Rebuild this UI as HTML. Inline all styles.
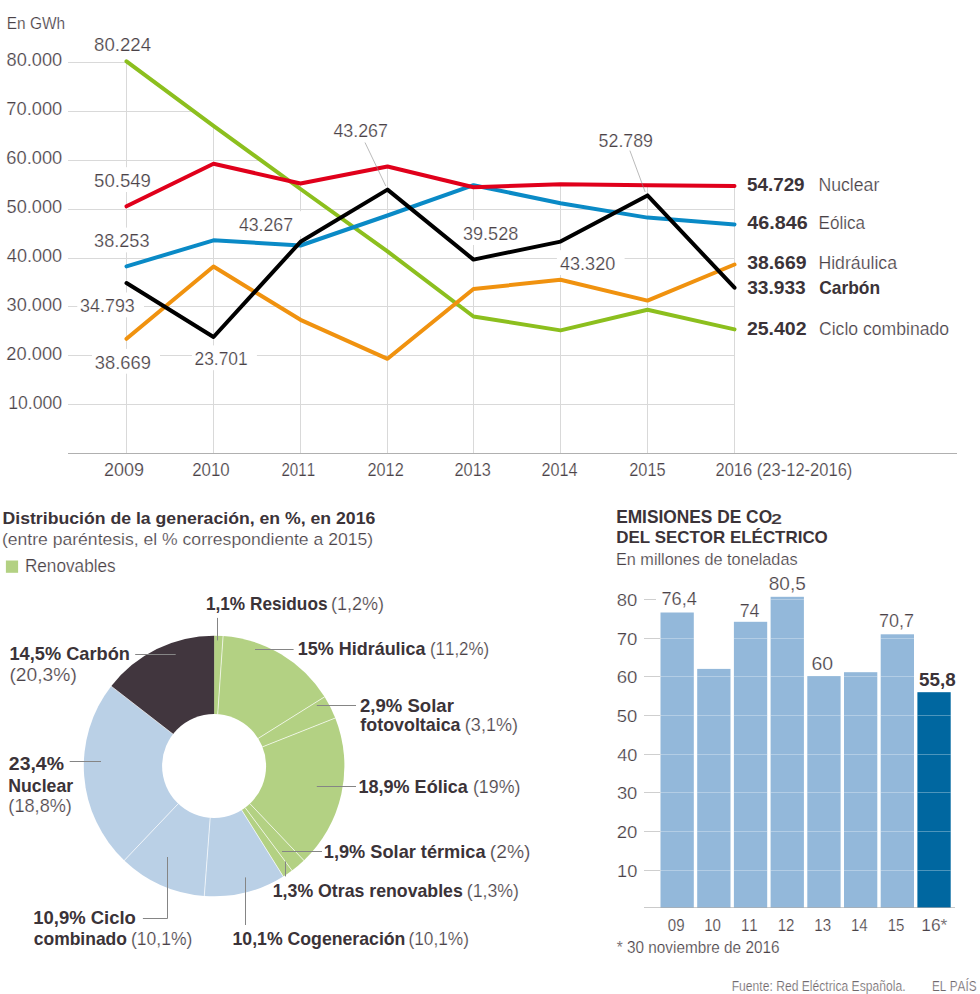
<!DOCTYPE html>
<html><head><meta charset="utf-8"><style>
html,body{margin:0;padding:0;background:#fff;}
body{width:980px;height:994px;overflow:hidden;}
svg{display:block;font-family:"Liberation Sans",sans-serif;font-kerning:none;}
</style></head><body>
<svg width="980" height="994" viewBox="0 0 980 994">
<defs><clipPath id="gc"><polygon points="60,61.30 126.50,61.30 213.50,125.80 300.50,189.00 387.50,251.40 473.50,316.50 560.50,330.40 647.50,309.80 734.50,329.40 736,329.40 736,460 60,460"/><polygon points="60,338.80 126.50,338.80 213.50,266.50 300.50,319.80 387.50,358.80 473.50,289.00 560.50,279.80 647.50,300.60 734.50,264.50 736,264.50 736,460 60,460"/><polygon points="60,266.40 126.50,266.40 213.50,240.30 300.50,245.50 387.50,215.50 473.50,185.20 560.50,203.20 647.50,217.60 734.50,224.40 736,224.40 736,460 60,460"/><polygon points="60,206.30 126.50,206.30 213.50,163.80 300.50,183.50 387.50,166.50 473.50,187.30 560.50,184.30 647.50,185.30 734.50,185.90 736,185.90 736,460 60,460"/><polygon points="60,283.00 126.50,283.00 213.50,337.00 300.50,241.80 387.50,189.60 473.50,259.60 560.50,241.60 647.50,195.40 734.50,287.70 736,287.70 736,460 60,460"/></clipPath></defs>
<g clip-path="url(#gc)" stroke="#d9d9d9" stroke-width="1"><line x1="68" y1="404.5" x2="735" y2="404.5"/><line x1="68" y1="355.5" x2="735" y2="355.5"/><line x1="68" y1="306.5" x2="735" y2="306.5"/><line x1="68" y1="258.5" x2="735" y2="258.5"/><line x1="68" y1="209.5" x2="735" y2="209.5"/><line x1="68" y1="160.5" x2="735" y2="160.5"/><line x1="68" y1="111.5" x2="735" y2="111.5"/><line x1="68" y1="62.5" x2="735" y2="62.5"/><line x1="126.5" y1="40" x2="126.5" y2="454"/><line x1="213.5" y1="40" x2="213.5" y2="454"/><line x1="300.5" y1="40" x2="300.5" y2="454"/><line x1="387.5" y1="40" x2="387.5" y2="454"/><line x1="473.5" y1="40" x2="473.5" y2="454"/><line x1="560.5" y1="40" x2="560.5" y2="454"/><line x1="647.5" y1="40" x2="647.5" y2="454"/><line x1="734.5" y1="40" x2="734.5" y2="454"/></g>
<line x1="68.00" y1="453.50" x2="957.00" y2="453.50" stroke="#b0b0b0" stroke-width="1"/>
<rect x="91.40" y="31.20" width="69.10" height="24.80" fill="#fff"/>
<rect x="91.30" y="167.20" width="68.80" height="24.80" fill="#fff"/>
<rect x="91.30" y="227.60" width="67.40" height="24.80" fill="#fff"/>
<rect x="235.80" y="211.20" width="66.40" height="24.80" fill="#fff"/>
<rect x="77.30" y="292.50" width="66.70" height="24.80" fill="#fff"/>
<rect x="92.00" y="348.90" width="68.00" height="24.80" fill="#fff"/>
<rect x="191.90" y="345.40" width="65.00" height="24.80" fill="#fff"/>
<rect x="330.30" y="117.20" width="66.80" height="24.80" fill="#fff"/>
<rect x="460.20" y="220.20" width="67.30" height="24.80" fill="#fff"/>
<rect x="556.90" y="250.20" width="67.70" height="24.80" fill="#fff"/>
<rect x="595.80" y="127.20" width="66.40" height="24.80" fill="#fff"/>
<polyline points="126.50,61.30 213.50,125.80 300.50,189.00 387.50,251.40 473.50,316.50 560.50,330.40 647.50,309.80 734.50,329.40" fill="none" stroke="#8cbf1e" stroke-width="4" stroke-linejoin="round" stroke-linecap="round"/>
<polyline points="126.50,338.80 213.50,266.50 300.50,319.80 387.50,358.80 473.50,289.00 560.50,279.80 647.50,300.60 734.50,264.50" fill="none" stroke="#f0920f" stroke-width="4" stroke-linejoin="round" stroke-linecap="round"/>
<polyline points="126.50,266.40 213.50,240.30 300.50,245.50 387.50,215.50 473.50,185.20 560.50,203.20 647.50,217.60 734.50,224.40" fill="none" stroke="#0a8ac6" stroke-width="4" stroke-linejoin="round" stroke-linecap="round"/>
<polyline points="126.50,206.30 213.50,163.80 300.50,183.50 387.50,166.50 473.50,187.30 560.50,184.30 647.50,185.30 734.50,185.90" fill="none" stroke="#e0001b" stroke-width="4" stroke-linejoin="round" stroke-linecap="round"/>
<polyline points="126.50,283.00 213.50,337.00 300.50,241.80 387.50,189.60 473.50,259.60 560.50,241.60 647.50,195.40 734.50,287.70" fill="none" stroke="#000000" stroke-width="4" stroke-linejoin="round" stroke-linecap="round"/>
<text x="94.09" y="51.00" font-size="17.91" textLength="56.95" lengthAdjust="spacingAndGlyphs" stroke="#fff" stroke-width="0.22" fill="#4a4247">80.224</text>
<text x="94.05" y="187.00" font-size="17.91" textLength="56.93" lengthAdjust="spacingAndGlyphs" stroke="#fff" stroke-width="0.22" fill="#4a4247">50.549</text>
<text x="94.11" y="247.40" font-size="17.91" textLength="55.39" lengthAdjust="spacingAndGlyphs" stroke="#fff" stroke-width="0.22" fill="#4a4247">38.253</text>
<text x="238.89" y="231.00" font-size="17.91" textLength="54.20" lengthAdjust="spacingAndGlyphs" stroke="#fff" stroke-width="0.22" fill="#4a4247">43.267</text>
<text x="80.12" y="312.30" font-size="17.91" textLength="54.67" lengthAdjust="spacingAndGlyphs" stroke="#fff" stroke-width="0.22" fill="#4a4247">34.793</text>
<text x="94.80" y="368.70" font-size="17.91" textLength="56.07" lengthAdjust="spacingAndGlyphs" stroke="#fff" stroke-width="0.22" fill="#4a4247">38.669</text>
<text x="194.52" y="365.20" font-size="17.91" textLength="53.22" lengthAdjust="spacingAndGlyphs" stroke="#fff" stroke-width="0.22" fill="#4a4247">23.701</text>
<text x="333.39" y="137.00" font-size="17.91" textLength="54.61" lengthAdjust="spacingAndGlyphs" stroke="#fff" stroke-width="0.22" fill="#4a4247">43.267</text>
<text x="463.01" y="240.00" font-size="17.91" textLength="55.27" lengthAdjust="spacingAndGlyphs" stroke="#fff" stroke-width="0.22" fill="#4a4247">39.528</text>
<text x="559.98" y="270.00" font-size="17.91" textLength="55.32" lengthAdjust="spacingAndGlyphs" stroke="#fff" stroke-width="0.22" fill="#4a4247">43.320</text>
<text x="598.59" y="147.00" font-size="17.91" textLength="54.46" lengthAdjust="spacingAndGlyphs" stroke="#fff" stroke-width="0.22" fill="#4a4247">52.789</text>
<line x1="365.00" y1="142.50" x2="385.80" y2="186.00" stroke="#8c8c8c" stroke-width="0.6"/>
<line x1="629.90" y1="150.60" x2="645.20" y2="192.00" stroke="#8c8c8c" stroke-width="0.6"/>
<text x="6.73" y="28.90" font-size="17.16" textLength="58.37" lengthAdjust="spacingAndGlyphs" stroke="#fff" stroke-width="0.22" fill="#4a4247">En GWh</text>
<text x="8.15" y="408.50" font-size="17.91" textLength="54.04" lengthAdjust="spacingAndGlyphs" stroke="#fff" stroke-width="0.22" fill="#4a4247">10.000</text>
<text x="6.38" y="359.60" font-size="17.91" textLength="55.83" lengthAdjust="spacingAndGlyphs" stroke="#fff" stroke-width="0.22" fill="#4a4247">20.000</text>
<text x="6.61" y="310.70" font-size="17.91" textLength="55.60" lengthAdjust="spacingAndGlyphs" stroke="#fff" stroke-width="0.22" fill="#4a4247">30.000</text>
<text x="6.88" y="261.80" font-size="17.91" textLength="55.32" lengthAdjust="spacingAndGlyphs" stroke="#fff" stroke-width="0.22" fill="#4a4247">40.000</text>
<text x="6.57" y="212.90" font-size="17.91" textLength="55.64" lengthAdjust="spacingAndGlyphs" stroke="#fff" stroke-width="0.22" fill="#4a4247">50.000</text>
<text x="6.37" y="164.00" font-size="17.91" textLength="55.84" lengthAdjust="spacingAndGlyphs" stroke="#fff" stroke-width="0.22" fill="#4a4247">60.000</text>
<text x="6.36" y="115.10" font-size="17.91" textLength="55.85" lengthAdjust="spacingAndGlyphs" stroke="#fff" stroke-width="0.22" fill="#4a4247">70.000</text>
<text x="6.51" y="66.20" font-size="17.91" textLength="55.70" lengthAdjust="spacingAndGlyphs" stroke="#fff" stroke-width="0.22" fill="#4a4247">80.000</text>
<text x="103.89" y="476.30" font-size="18.21" textLength="40.06" lengthAdjust="spacingAndGlyphs" stroke="#fff" stroke-width="0.22" fill="#4a4247">2009</text>
<text x="192.15" y="476.30" font-size="18.21" textLength="37.51" lengthAdjust="spacingAndGlyphs" stroke="#fff" stroke-width="0.22" fill="#4a4247">2010</text>
<text x="281.44" y="476.30" font-size="18.21" textLength="33.70" lengthAdjust="spacingAndGlyphs" stroke="#fff" stroke-width="0.22" fill="#4a4247">2011</text>
<text x="367.48" y="476.30" font-size="18.21" textLength="36.24" lengthAdjust="spacingAndGlyphs" stroke="#fff" stroke-width="0.22" fill="#4a4247">2012</text>
<text x="454.48" y="476.30" font-size="18.21" textLength="36.44" lengthAdjust="spacingAndGlyphs" stroke="#fff" stroke-width="0.22" fill="#4a4247">2013</text>
<text x="541.38" y="476.30" font-size="18.21" textLength="36.09" lengthAdjust="spacingAndGlyphs" stroke="#fff" stroke-width="0.22" fill="#4a4247">2014</text>
<text x="629.28" y="476.30" font-size="18.21" textLength="36.41" lengthAdjust="spacingAndGlyphs" stroke="#fff" stroke-width="0.22" fill="#4a4247">2015</text>
<text x="715.47" y="476.30" font-size="18.21" textLength="136.86" lengthAdjust="spacingAndGlyphs" stroke="#fff" stroke-width="0.22" fill="#4a4247">2016 (23-12-2016)</text>
<text x="747.02" y="191.10" font-size="17.61" textLength="57.58" lengthAdjust="spacingAndGlyphs" font-weight="bold" fill="#3b3338">54.729</text>
<text x="818.45" y="191.10" font-size="17.61" textLength="60.84" lengthAdjust="spacingAndGlyphs" stroke="#fff" stroke-width="0.22" fill="#4a4247">Nuclear</text>
<text x="747.30" y="228.70" font-size="17.61" textLength="60.41" lengthAdjust="spacingAndGlyphs" font-weight="bold" fill="#3b3338">46.846</text>
<text x="818.50" y="228.70" font-size="17.61" textLength="46.50" lengthAdjust="spacingAndGlyphs" stroke="#fff" stroke-width="0.22" fill="#4a4247">Eólica</text>
<text x="747.15" y="268.60" font-size="17.61" textLength="59.37" lengthAdjust="spacingAndGlyphs" font-weight="bold" fill="#3b3338">38.669</text>
<text x="818.45" y="268.60" font-size="17.61" textLength="78.55" lengthAdjust="spacingAndGlyphs" stroke="#fff" stroke-width="0.22" fill="#4a4247">Hidráulica</text>
<text x="747.16" y="293.90" font-size="17.61" textLength="58.63" lengthAdjust="spacingAndGlyphs" font-weight="bold" fill="#3b3338">33.933</text>
<text x="819.19" y="293.90" font-size="17.61" textLength="60.89" lengthAdjust="spacingAndGlyphs" font-weight="bold" fill="#3b3338">Carbón</text>
<text x="746.92" y="334.70" font-size="17.61" textLength="59.66" lengthAdjust="spacingAndGlyphs" font-weight="bold" fill="#3b3338">25.402</text>
<text x="819.01" y="334.70" font-size="17.61" textLength="130.03" lengthAdjust="spacingAndGlyphs" stroke="#fff" stroke-width="0.22" fill="#4a4247">Ciclo combinado</text>
<text x="2.52" y="523.50" font-size="17.01" textLength="372.82" lengthAdjust="spacingAndGlyphs" font-weight="bold" fill="#3b3338">Distribución de la generación, en %, en 2016</text>
<text x="1.91" y="545.00" font-size="17.01" textLength="371.18" lengthAdjust="spacingAndGlyphs" stroke="#fff" stroke-width="0.22" fill="#4a4247">(entre paréntesis, el % correspondiente a 2015)</text>
<rect x="5.90" y="560.50" width="12.20" height="12.30" fill="#b3d183"/>
<text x="24.89" y="572.10" font-size="17.46" textLength="90.83" lengthAdjust="spacingAndGlyphs" stroke="#fff" stroke-width="0.22" fill="#4a4247">Renovables</text>
<path d="M214.100,766.000 L214.100,635.700 A130.300,130.300 0 0 1 223.099,636.011 Z" fill="#b3d183"/>
<path d="M214.100,766.000 L223.099,636.011 A130.300,130.300 0 0 1 324.552,696.874 Z" fill="#b3d183"/>
<path d="M214.100,766.000 L324.552,696.874 A130.300,130.300 0 0 1 335.250,718.033 Z" fill="#b3d183"/>
<path d="M214.100,766.000 L335.250,718.033 A130.300,130.300 0 0 1 303.892,860.422 Z" fill="#b3d183"/>
<path d="M214.100,766.000 L303.892,860.422 A130.300,130.300 0 0 1 292.007,870.444 Z" fill="#b3d183"/>
<path d="M214.100,766.000 L292.007,870.444 A130.300,130.300 0 0 1 283.226,876.452 Z" fill="#b3d183"/>
<path d="M214.100,766.000 L283.226,876.452 A130.300,130.300 0 0 1 204.285,895.930 Z" fill="#bad0e6"/>
<path d="M214.100,766.000 L204.285,895.930 A130.300,130.300 0 0 1 124.308,860.422 Z" fill="#bad0e6"/>
<path d="M214.100,766.000 L124.308,860.422 A130.300,130.300 0 0 1 111.143,686.138 Z" fill="#bad0e6"/>
<path d="M214.100,766.000 L111.143,686.138 A130.300,130.300 0 0 1 214.100,635.700 Z" fill="#41363e"/>
<line x1="217.69" y1="714.12" x2="223.17" y2="635.01" stroke="rgba(255,255,255,0.85)" stroke-width="0.8"/>
<line x1="258.18" y1="738.41" x2="325.40" y2="696.34" stroke="rgba(255,255,255,0.85)" stroke-width="0.8"/>
<line x1="262.45" y1="746.86" x2="336.18" y2="717.67" stroke="rgba(255,255,255,0.85)" stroke-width="0.8"/>
<line x1="249.93" y1="803.68" x2="304.58" y2="861.15" stroke="rgba(255,255,255,0.85)" stroke-width="0.8"/>
<line x1="245.19" y1="807.68" x2="292.60" y2="871.25" stroke="rgba(255,255,255,0.85)" stroke-width="0.8"/>
<line x1="241.69" y1="810.08" x2="283.76" y2="877.30" stroke="rgba(255,255,255,0.85)" stroke-width="0.8"/>
<line x1="210.18" y1="817.85" x2="204.21" y2="896.93" stroke="rgba(255,255,255,0.85)" stroke-width="0.8"/>
<line x1="178.27" y1="803.68" x2="123.62" y2="861.15" stroke="rgba(255,255,255,0.85)" stroke-width="0.8"/>
<line x1="173.01" y1="734.13" x2="110.35" y2="685.53" stroke="rgba(255,255,255,0.85)" stroke-width="0.8"/>
<circle cx="214.10" cy="766.00" r="52.00" fill="#fff"/>
<line x1="217.50" y1="617.90" x2="217.50" y2="640.40" stroke="#858585" stroke-width="1"/>
<line x1="255.00" y1="649.50" x2="293.60" y2="649.50" stroke="#858585" stroke-width="1"/>
<line x1="316.80" y1="705.50" x2="356.00" y2="705.50" stroke="#858585" stroke-width="1"/>
<line x1="316.80" y1="786.50" x2="356.00" y2="786.50" stroke="#858585" stroke-width="1"/>
<line x1="282.00" y1="851.50" x2="322.00" y2="851.50" stroke="#858585" stroke-width="1"/>
<line x1="285.50" y1="861.40" x2="285.50" y2="876.40" stroke="#858585" stroke-width="1"/>
<line x1="245.50" y1="877.40" x2="245.50" y2="925.00" stroke="#858585" stroke-width="1"/>
<polyline points="142.9,918.5 167.5,918.5 167.5,857" fill="none" stroke="#858585" stroke-width="1"/>
<line x1="69.70" y1="761.50" x2="101.00" y2="761.50" stroke="#858585" stroke-width="1"/>
<line x1="135.20" y1="654.50" x2="175.70" y2="654.50" stroke="#858585" stroke-width="1"/>
<text x="205.91" y="610.00" font-size="17.76" textLength="121.59" lengthAdjust="spacingAndGlyphs" font-weight="bold" fill="#3b3338">1,1% Residuos</text>
<text x="330.98" y="610.00" font-size="17.76" textLength="53.03" lengthAdjust="spacingAndGlyphs" stroke="#fff" stroke-width="0.22" fill="#4a4247">(1,2%)</text>
<text x="297.77" y="654.60" font-size="17.76" textLength="127.82" lengthAdjust="spacingAndGlyphs" font-weight="bold" fill="#3b3338">15% Hidráulica</text>
<text x="429.95" y="654.60" font-size="17.76" textLength="59.30" lengthAdjust="spacingAndGlyphs" stroke="#fff" stroke-width="0.22" fill="#4a4247">(11,2%)</text>
<text x="360.06" y="711.80" font-size="17.76" textLength="93.82" lengthAdjust="spacingAndGlyphs" font-weight="bold" fill="#3b3338">2,9% Solar</text>
<text x="360.39" y="731.40" font-size="17.76" textLength="100.19" lengthAdjust="spacingAndGlyphs" font-weight="bold" fill="#3b3338">fotovoltaica</text>
<text x="464.88" y="731.40" font-size="17.76" textLength="53.03" lengthAdjust="spacingAndGlyphs" stroke="#fff" stroke-width="0.22" fill="#4a4247">(3,1%)</text>
<text x="358.46" y="792.50" font-size="17.76" textLength="109.32" lengthAdjust="spacingAndGlyphs" font-weight="bold" fill="#3b3338">18,9% Eólica</text>
<text x="472.90" y="792.50" font-size="17.76" textLength="47.51" lengthAdjust="spacingAndGlyphs" stroke="#fff" stroke-width="0.22" fill="#4a4247">(19%)</text>
<text x="323.85" y="857.90" font-size="17.76" textLength="161.73" lengthAdjust="spacingAndGlyphs" font-weight="bold" fill="#3b3338">1,9% Solar térmica</text>
<text x="489.80" y="857.90" font-size="17.76" textLength="40.69" lengthAdjust="spacingAndGlyphs" stroke="#fff" stroke-width="0.22" fill="#4a4247">(2%)</text>
<text x="272.78" y="897.10" font-size="17.76" textLength="190.04" lengthAdjust="spacingAndGlyphs" font-weight="bold" fill="#3b3338">1,3% Otras renovables</text>
<text x="466.80" y="897.10" font-size="17.76" textLength="52.20" lengthAdjust="spacingAndGlyphs" stroke="#fff" stroke-width="0.22" fill="#4a4247">(1,3%)</text>
<text x="232.49" y="945.40" font-size="17.76" textLength="172.91" lengthAdjust="spacingAndGlyphs" font-weight="bold" fill="#3b3338">10,1% Cogeneración</text>
<text x="408.53" y="945.40" font-size="17.76" textLength="60.44" lengthAdjust="spacingAndGlyphs" stroke="#fff" stroke-width="0.22" fill="#4a4247">(10,1%)</text>
<text x="33.24" y="923.80" font-size="17.76" textLength="102.69" lengthAdjust="spacingAndGlyphs" font-weight="bold" fill="#3b3338">10,9% Ciclo</text>
<text x="33.72" y="945.00" font-size="17.76" textLength="93.27" lengthAdjust="spacingAndGlyphs" font-weight="bold" fill="#3b3338">combinado</text>
<text x="131.01" y="945.00" font-size="17.76" textLength="61.37" lengthAdjust="spacingAndGlyphs" stroke="#fff" stroke-width="0.22" fill="#4a4247">(10,1%)</text>
<text x="9.45" y="659.50" font-size="17.76" textLength="120.48" lengthAdjust="spacingAndGlyphs" font-weight="bold" fill="#3b3338">14,5% Carbón</text>
<text x="9.41" y="681.20" font-size="17.76" textLength="67.39" lengthAdjust="spacingAndGlyphs" stroke="#fff" stroke-width="0.22" fill="#4a4247">(20,3%)</text>
<text x="8.83" y="770.00" font-size="17.76" textLength="55.09" lengthAdjust="spacingAndGlyphs" font-weight="bold" fill="#3b3338">23,4%</text>
<text x="8.32" y="791.50" font-size="17.76" textLength="64.85" lengthAdjust="spacingAndGlyphs" font-weight="bold" fill="#3b3338">Nuclear</text>
<text x="8.37" y="812.20" font-size="17.76" textLength="63.55" lengthAdjust="spacingAndGlyphs" stroke="#fff" stroke-width="0.22" fill="#4a4247">(18,8%)</text>
<text x="616.14" y="522.90" font-size="18.21" textLength="155.99" lengthAdjust="spacingAndGlyphs" font-weight="bold" fill="#3b3338">EMISIONES DE CO</text>
<text x="771.11" y="524.30" font-size="15.52" textLength="10.99" lengthAdjust="spacingAndGlyphs" stroke="#fff" stroke-width="0.22" fill="#3b3338" font-weight="600">2</text>
<text x="616.17" y="542.90" font-size="17.01" textLength="211.64" lengthAdjust="spacingAndGlyphs" font-weight="bold" fill="#3b3338">DEL SECTOR ELÉCTRICO</text>
<text x="615.97" y="564.90" font-size="17.01" textLength="181.62" lengthAdjust="spacingAndGlyphs" stroke="#fff" stroke-width="0.22" fill="#4a4247">En millones de toneladas</text>
<rect x="660.50" y="612.50" width="33.30" height="295.00" fill="#93b8da"/>
<rect x="697.20" y="668.90" width="33.30" height="238.60" fill="#93b8da"/>
<rect x="733.90" y="621.80" width="33.30" height="285.70" fill="#93b8da"/>
<rect x="770.60" y="596.80" width="33.30" height="310.70" fill="#93b8da"/>
<rect x="807.30" y="676.10" width="33.30" height="231.40" fill="#93b8da"/>
<rect x="844.00" y="672.20" width="33.30" height="235.30" fill="#93b8da"/>
<rect x="880.70" y="634.30" width="33.30" height="273.20" fill="#93b8da"/>
<rect x="917.40" y="692.20" width="33.30" height="215.30" fill="#0067a0"/>
<line x1="644.00" y1="870.50" x2="660.50" y2="870.50" stroke="#cfcfcf" stroke-width="1"/>
<line x1="660.50" y1="870.50" x2="693.80" y2="870.50" stroke="rgba(255,255,255,0.3)" stroke-width="1"/>
<line x1="697.20" y1="870.50" x2="730.50" y2="870.50" stroke="rgba(255,255,255,0.3)" stroke-width="1"/>
<line x1="733.90" y1="870.50" x2="767.20" y2="870.50" stroke="rgba(255,255,255,0.3)" stroke-width="1"/>
<line x1="770.60" y1="870.50" x2="803.90" y2="870.50" stroke="rgba(255,255,255,0.3)" stroke-width="1"/>
<line x1="807.30" y1="870.50" x2="840.60" y2="870.50" stroke="rgba(255,255,255,0.3)" stroke-width="1"/>
<line x1="844.00" y1="870.50" x2="877.30" y2="870.50" stroke="rgba(255,255,255,0.3)" stroke-width="1"/>
<line x1="880.70" y1="870.50" x2="914.00" y2="870.50" stroke="rgba(255,255,255,0.3)" stroke-width="1"/>
<line x1="917.40" y1="870.50" x2="950.70" y2="870.50" stroke="rgba(255,255,255,0.3)" stroke-width="1"/>
<line x1="644.00" y1="831.50" x2="660.50" y2="831.50" stroke="#cfcfcf" stroke-width="1"/>
<line x1="660.50" y1="831.50" x2="693.80" y2="831.50" stroke="rgba(255,255,255,0.3)" stroke-width="1"/>
<line x1="697.20" y1="831.50" x2="730.50" y2="831.50" stroke="rgba(255,255,255,0.3)" stroke-width="1"/>
<line x1="733.90" y1="831.50" x2="767.20" y2="831.50" stroke="rgba(255,255,255,0.3)" stroke-width="1"/>
<line x1="770.60" y1="831.50" x2="803.90" y2="831.50" stroke="rgba(255,255,255,0.3)" stroke-width="1"/>
<line x1="807.30" y1="831.50" x2="840.60" y2="831.50" stroke="rgba(255,255,255,0.3)" stroke-width="1"/>
<line x1="844.00" y1="831.50" x2="877.30" y2="831.50" stroke="rgba(255,255,255,0.3)" stroke-width="1"/>
<line x1="880.70" y1="831.50" x2="914.00" y2="831.50" stroke="rgba(255,255,255,0.3)" stroke-width="1"/>
<line x1="917.40" y1="831.50" x2="950.70" y2="831.50" stroke="rgba(255,255,255,0.3)" stroke-width="1"/>
<line x1="644.00" y1="792.50" x2="660.50" y2="792.50" stroke="#cfcfcf" stroke-width="1"/>
<line x1="660.50" y1="792.50" x2="693.80" y2="792.50" stroke="rgba(255,255,255,0.3)" stroke-width="1"/>
<line x1="697.20" y1="792.50" x2="730.50" y2="792.50" stroke="rgba(255,255,255,0.3)" stroke-width="1"/>
<line x1="733.90" y1="792.50" x2="767.20" y2="792.50" stroke="rgba(255,255,255,0.3)" stroke-width="1"/>
<line x1="770.60" y1="792.50" x2="803.90" y2="792.50" stroke="rgba(255,255,255,0.3)" stroke-width="1"/>
<line x1="807.30" y1="792.50" x2="840.60" y2="792.50" stroke="rgba(255,255,255,0.3)" stroke-width="1"/>
<line x1="844.00" y1="792.50" x2="877.30" y2="792.50" stroke="rgba(255,255,255,0.3)" stroke-width="1"/>
<line x1="880.70" y1="792.50" x2="914.00" y2="792.50" stroke="rgba(255,255,255,0.3)" stroke-width="1"/>
<line x1="917.40" y1="792.50" x2="950.70" y2="792.50" stroke="rgba(255,255,255,0.3)" stroke-width="1"/>
<line x1="644.00" y1="754.50" x2="660.50" y2="754.50" stroke="#cfcfcf" stroke-width="1"/>
<line x1="660.50" y1="754.50" x2="693.80" y2="754.50" stroke="rgba(255,255,255,0.3)" stroke-width="1"/>
<line x1="697.20" y1="754.50" x2="730.50" y2="754.50" stroke="rgba(255,255,255,0.3)" stroke-width="1"/>
<line x1="733.90" y1="754.50" x2="767.20" y2="754.50" stroke="rgba(255,255,255,0.3)" stroke-width="1"/>
<line x1="770.60" y1="754.50" x2="803.90" y2="754.50" stroke="rgba(255,255,255,0.3)" stroke-width="1"/>
<line x1="807.30" y1="754.50" x2="840.60" y2="754.50" stroke="rgba(255,255,255,0.3)" stroke-width="1"/>
<line x1="844.00" y1="754.50" x2="877.30" y2="754.50" stroke="rgba(255,255,255,0.3)" stroke-width="1"/>
<line x1="880.70" y1="754.50" x2="914.00" y2="754.50" stroke="rgba(255,255,255,0.3)" stroke-width="1"/>
<line x1="917.40" y1="754.50" x2="950.70" y2="754.50" stroke="rgba(255,255,255,0.3)" stroke-width="1"/>
<line x1="644.00" y1="715.50" x2="660.50" y2="715.50" stroke="#cfcfcf" stroke-width="1"/>
<line x1="660.50" y1="715.50" x2="693.80" y2="715.50" stroke="rgba(255,255,255,0.3)" stroke-width="1"/>
<line x1="697.20" y1="715.50" x2="730.50" y2="715.50" stroke="rgba(255,255,255,0.3)" stroke-width="1"/>
<line x1="733.90" y1="715.50" x2="767.20" y2="715.50" stroke="rgba(255,255,255,0.3)" stroke-width="1"/>
<line x1="770.60" y1="715.50" x2="803.90" y2="715.50" stroke="rgba(255,255,255,0.3)" stroke-width="1"/>
<line x1="807.30" y1="715.50" x2="840.60" y2="715.50" stroke="rgba(255,255,255,0.3)" stroke-width="1"/>
<line x1="844.00" y1="715.50" x2="877.30" y2="715.50" stroke="rgba(255,255,255,0.3)" stroke-width="1"/>
<line x1="880.70" y1="715.50" x2="914.00" y2="715.50" stroke="rgba(255,255,255,0.3)" stroke-width="1"/>
<line x1="917.40" y1="715.50" x2="950.70" y2="715.50" stroke="rgba(255,255,255,0.3)" stroke-width="1"/>
<line x1="644.00" y1="676.50" x2="660.50" y2="676.50" stroke="#cfcfcf" stroke-width="1"/>
<line x1="660.50" y1="676.50" x2="693.80" y2="676.50" stroke="rgba(255,255,255,0.3)" stroke-width="1"/>
<line x1="697.20" y1="676.50" x2="730.50" y2="676.50" stroke="rgba(255,255,255,0.3)" stroke-width="1"/>
<line x1="733.90" y1="676.50" x2="767.20" y2="676.50" stroke="rgba(255,255,255,0.3)" stroke-width="1"/>
<line x1="770.60" y1="676.50" x2="803.90" y2="676.50" stroke="rgba(255,255,255,0.3)" stroke-width="1"/>
<line x1="844.00" y1="676.50" x2="877.30" y2="676.50" stroke="rgba(255,255,255,0.3)" stroke-width="1"/>
<line x1="880.70" y1="676.50" x2="914.00" y2="676.50" stroke="rgba(255,255,255,0.3)" stroke-width="1"/>
<line x1="644.00" y1="638.50" x2="660.50" y2="638.50" stroke="#cfcfcf" stroke-width="1"/>
<line x1="660.50" y1="638.50" x2="693.80" y2="638.50" stroke="rgba(255,255,255,0.3)" stroke-width="1"/>
<line x1="733.90" y1="638.50" x2="767.20" y2="638.50" stroke="rgba(255,255,255,0.3)" stroke-width="1"/>
<line x1="770.60" y1="638.50" x2="803.90" y2="638.50" stroke="rgba(255,255,255,0.3)" stroke-width="1"/>
<line x1="880.70" y1="638.50" x2="914.00" y2="638.50" stroke="rgba(255,255,255,0.3)" stroke-width="1"/>
<line x1="644.00" y1="599.50" x2="656.00" y2="599.50" stroke="#cfcfcf" stroke-width="1"/>
<line x1="770.60" y1="599.50" x2="803.90" y2="599.50" stroke="rgba(255,255,255,0.3)" stroke-width="1"/>
<line x1="644.00" y1="907.50" x2="955.00" y2="907.50" stroke="rgba(74,74,74,0.29)" stroke-width="1"/>
<text x="617.01" y="876.50" font-size="16.87" textLength="20.30" lengthAdjust="spacingAndGlyphs" stroke="#fff" stroke-width="0.22" fill="#4a4247">10</text>
<text x="616.67" y="837.50" font-size="16.87" textLength="20.66" lengthAdjust="spacingAndGlyphs" stroke="#fff" stroke-width="0.22" fill="#4a4247">20</text>
<text x="616.90" y="798.50" font-size="16.87" textLength="20.42" lengthAdjust="spacingAndGlyphs" stroke="#fff" stroke-width="0.22" fill="#4a4247">30</text>
<text x="617.18" y="760.50" font-size="16.87" textLength="20.12" lengthAdjust="spacingAndGlyphs" stroke="#fff" stroke-width="0.22" fill="#4a4247">40</text>
<text x="616.86" y="721.50" font-size="16.87" textLength="20.45" lengthAdjust="spacingAndGlyphs" stroke="#fff" stroke-width="0.22" fill="#4a4247">50</text>
<text x="616.66" y="682.50" font-size="16.87" textLength="20.67" lengthAdjust="spacingAndGlyphs" stroke="#fff" stroke-width="0.22" fill="#4a4247">60</text>
<text x="616.65" y="644.50" font-size="16.87" textLength="20.68" lengthAdjust="spacingAndGlyphs" stroke="#fff" stroke-width="0.22" fill="#4a4247">70</text>
<text x="616.80" y="605.50" font-size="16.87" textLength="20.52" lengthAdjust="spacingAndGlyphs" stroke="#fff" stroke-width="0.22" fill="#4a4247">80</text>
<text x="661.47" y="605.30" font-size="17.76" textLength="35.47" lengthAdjust="spacingAndGlyphs" stroke="#fff" stroke-width="0.22" fill="#4a4247">76,4</text>
<text x="739.69" y="616.50" font-size="17.76" textLength="19.84" lengthAdjust="spacingAndGlyphs" stroke="#fff" stroke-width="0.22" fill="#4a4247">74</text>
<text x="768.77" y="589.90" font-size="17.76" textLength="37.03" lengthAdjust="spacingAndGlyphs" stroke="#fff" stroke-width="0.22" fill="#4a4247">80,5</text>
<text x="811.51" y="669.60" font-size="17.76" textLength="21.65" lengthAdjust="spacingAndGlyphs" stroke="#fff" stroke-width="0.22" fill="#4a4247">60</text>
<text x="879.08" y="627.40" font-size="17.76" textLength="35.03" lengthAdjust="spacingAndGlyphs" stroke="#fff" stroke-width="0.22" fill="#4a4247">70,7</text>
<text x="919.02" y="686.10" font-size="17.76" textLength="36.56" lengthAdjust="spacingAndGlyphs" font-weight="bold" fill="#3b3338">55,8</text>
<text x="667.83" y="930.80" font-size="16.57" textLength="16.76" lengthAdjust="spacingAndGlyphs" stroke="#fff" stroke-width="0.22" fill="#4a4247">09</text>
<text x="704.19" y="930.80" font-size="16.57" textLength="16.76" lengthAdjust="spacingAndGlyphs" stroke="#fff" stroke-width="0.22" fill="#4a4247">10</text>
<text x="740.97" y="930.80" font-size="16.57" textLength="16.76" lengthAdjust="spacingAndGlyphs" stroke="#fff" stroke-width="0.22" fill="#4a4247">11</text>
<text x="777.68" y="930.80" font-size="16.57" textLength="16.76" lengthAdjust="spacingAndGlyphs" stroke="#fff" stroke-width="0.22" fill="#4a4247">12</text>
<text x="814.33" y="930.80" font-size="16.57" textLength="16.76" lengthAdjust="spacingAndGlyphs" stroke="#fff" stroke-width="0.22" fill="#4a4247">13</text>
<text x="850.92" y="930.80" font-size="16.57" textLength="16.76" lengthAdjust="spacingAndGlyphs" stroke="#fff" stroke-width="0.22" fill="#4a4247">14</text>
<text x="887.71" y="930.80" font-size="16.57" textLength="16.76" lengthAdjust="spacingAndGlyphs" stroke="#fff" stroke-width="0.22" fill="#4a4247">15</text>
<text x="921.28" y="930.80" font-size="16.57" textLength="25.99" lengthAdjust="spacingAndGlyphs" stroke="#fff" stroke-width="0.22" fill="#4a4247">16*</text>
<text x="616.75" y="952.70" font-size="16.12" textLength="162.72" lengthAdjust="spacingAndGlyphs" stroke="#fff" stroke-width="0.22" fill="#4a4247">* 30 noviembre de 2016</text>
<text x="731.71" y="991.00" font-size="14.63" textLength="173.80" lengthAdjust="spacingAndGlyphs" stroke="#fff" stroke-width="0.22" fill="#6f686c">Fuente: Red Eléctrica Española.</text>
<text x="932.03" y="991.00" font-size="14.63" textLength="44.51" lengthAdjust="spacingAndGlyphs" stroke="#fff" stroke-width="0.22" fill="#6f686c">EL PAÍS</text>
</svg></body></html>
